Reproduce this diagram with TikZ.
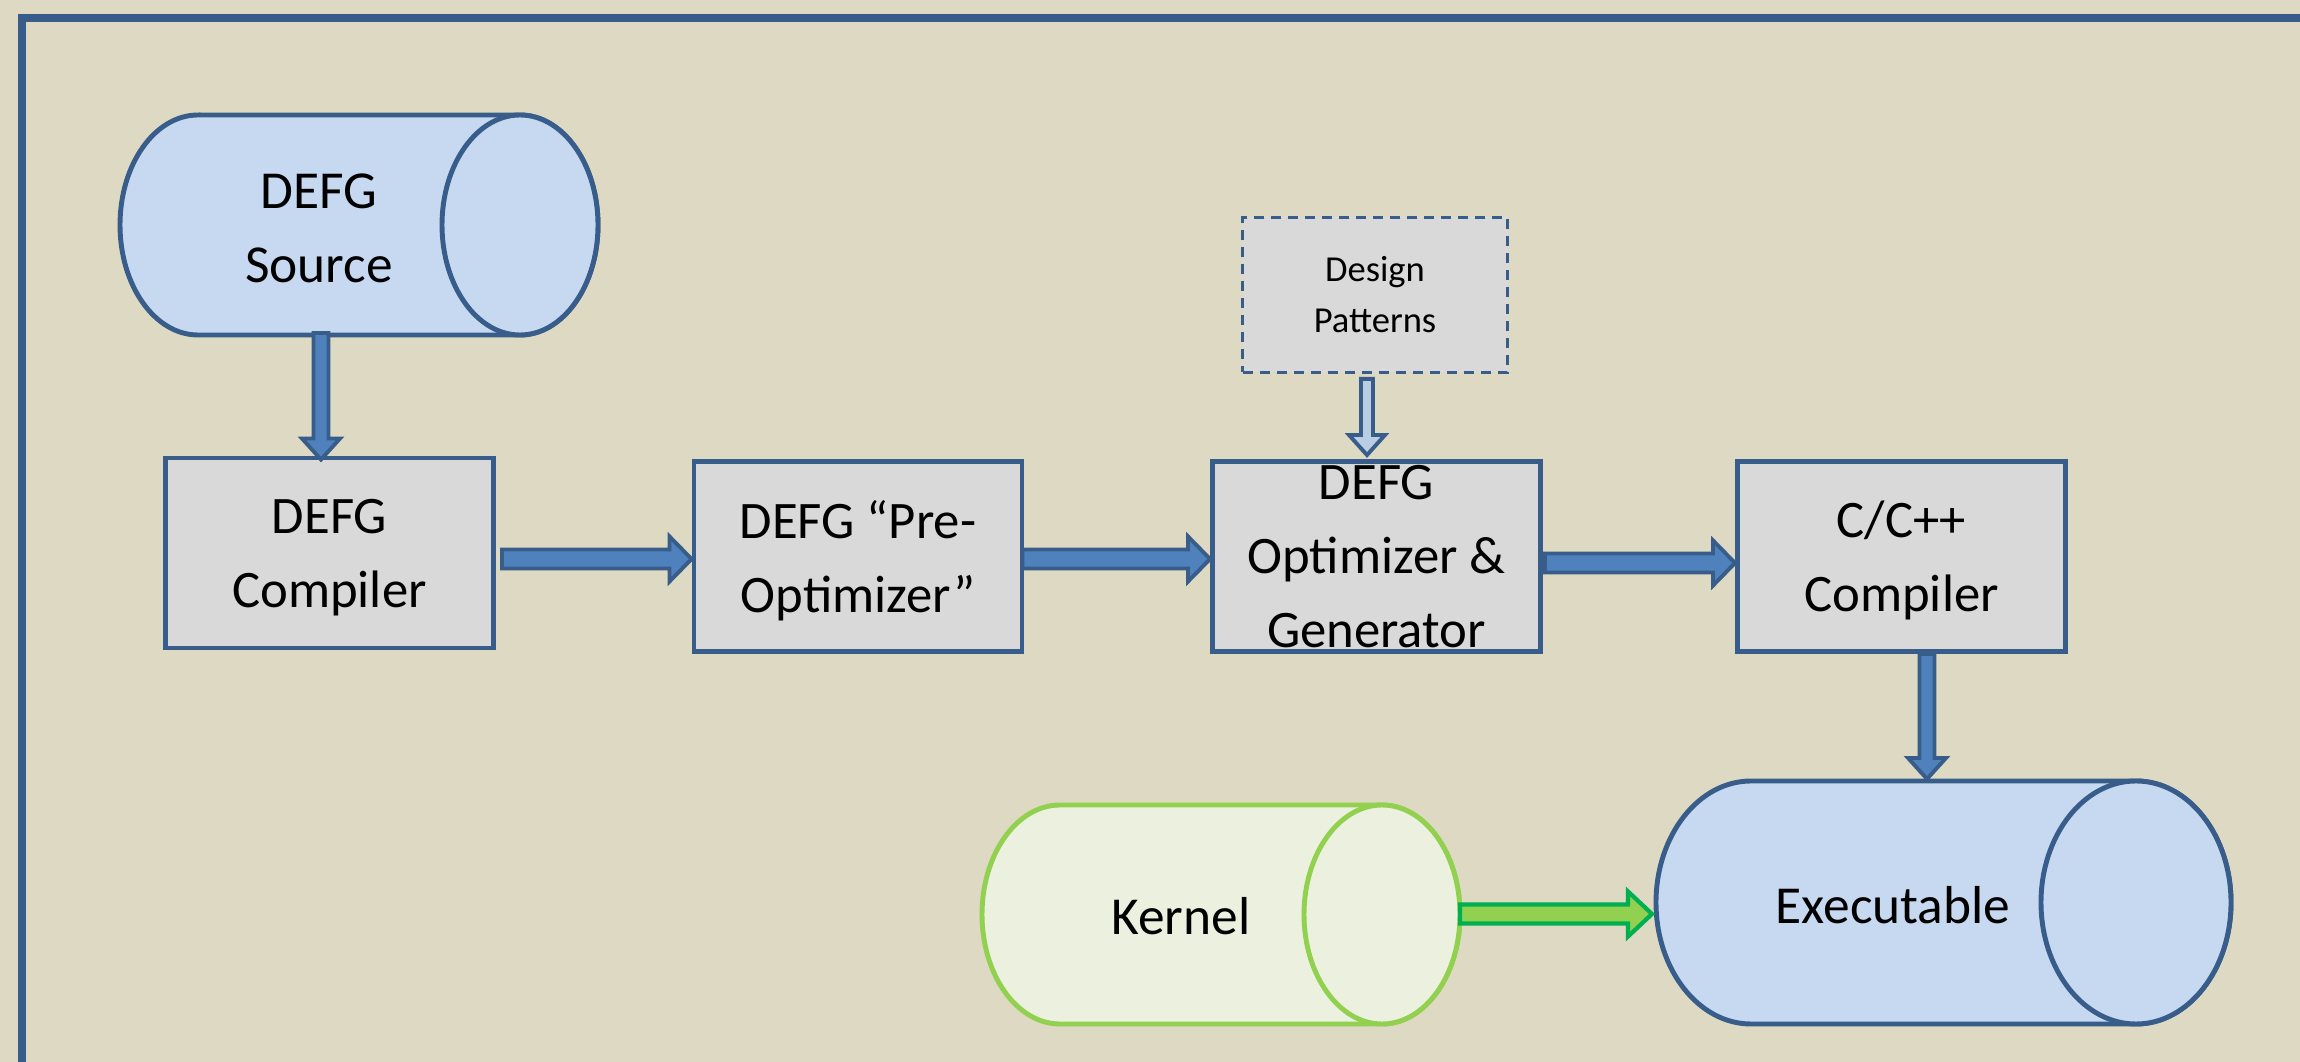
\documentclass[tikz,border=0pt]{standalone}
\usepackage{fontspec}
\setmainfont{Carlito}
\usepackage{tikz}
\usetikzlibrary{calc}
\usepackage{xcolor}

\definecolor{bgtan}{HTML}{DDD9C3}
\definecolor{navy}{HTML}{385D8A}
\definecolor{boxgray}{HTML}{D9D9D9}
\definecolor{cylblue}{HTML}{C6D9F1}
\definecolor{arrowblue}{HTML}{4F81BD}
\definecolor{paleblue}{HTML}{B9CDE5}
\definecolor{kergreen}{HTML}{92D050}
\definecolor{kerfill}{HTML}{EBF1DE}
\definecolor{arrowgreen}{HTML}{00B050}

% block arrow: [style]{from}{to}{half shaft}{half head}{head length}
\newcommand{\blockarrow}[6][]{%
  \draw[#1] ($(#2)!#4!90:(#3)$) -- ($(#3)!#6!(#2)!#4!90:(#3)$) -- ($(#3)!#6!(#2)!#5!90:(#3)$)
    -- (#3) -- ($(#3)!#6!(#2)!#5!-90:(#3)$) -- ($(#3)!#6!(#2)!#4!-90:(#3)$) -- ($(#2)!#4!-90:(#3)$) -- cycle;}

\begin{document}
\begin{tikzpicture}[
  stagebox/.style={draw=navy, line width=1.4pt, fill=boxgray, minimum width=3.28cm, minimum height=1.90cm,
    inner sep=0pt, text depth=0pt, align=center, font=\fontsize{15}{21}\selectfont},
  patternbox/.style={draw=navy, line width=0.8pt, dash pattern=on 0.1cm off 0.07cm, fill=boxgray,
    minimum width=2.65cm, minimum height=1.55cm, inner sep=0pt, align=center, font=\fontsize{10.4}{14.5}\selectfont},
  cyllabel/.style={align=center, inner sep=0pt, font=\fontsize{15.2}{21}\selectfont},
  bluecyl/.style={draw=navy, line width=1.4pt, fill=cylblue},
  greencyl/.style={draw=kergreen, line width=1.4pt, fill=kerfill},
  fatarrow/.style={draw=navy, line width=1.1pt, fill=arrowblue},
  lightarrow/.style={draw=navy, line width=1.1pt, fill=paleblue},
  greenarrow/.style={draw=arrowgreen, line width=1.2pt, fill=kergreen}
]
\useasboundingbox (0,0) rectangle (23,10.62);
\fill[bgtan] (0,0) rectangle (23,10.62);
\draw[navy, line width=2pt] (0.22,0) -- (0.22,10.44) -- (23,10.44);

% cylinders
\draw[bluecyl] (1.98,9.47) -- (5.20,9.47) arc[start angle=90, end angle=-90, x radius=0.78, y radius=1.10]
  -- (1.98,7.27) arc[start angle=270, end angle=90, x radius=0.78, y radius=1.10] -- cycle;
\draw[bluecyl] (5.20,8.37) ellipse [x radius=0.78, y radius=1.10];

\draw[greencyl] (10.60,2.57) -- (13.82,2.57) arc[start angle=90, end angle=-90, x radius=0.78, y radius=1.095]
  -- (10.60,0.38) arc[start angle=270, end angle=90, x radius=0.78, y radius=1.095] -- cycle;
\draw[greencyl] (13.82,1.475) ellipse [x radius=0.78, y radius=1.095];

\draw[bluecyl] (17.51,2.81) -- (21.36,2.81) arc[start angle=90, end angle=-90, x radius=0.95, y radius=1.215]
  -- (17.51,0.38) arc[start angle=270, end angle=90, x radius=0.95, y radius=1.215] -- cycle;
\draw[bluecyl] (21.36,1.595) ellipse [x radius=0.95, y radius=1.215];

\node[cyllabel] (src) at (3.19,8.34) {DEFG\\Source};
\node[cyllabel] (kernel) at (11.81,1.46) {Kernel};
\node[cyllabel] (exe) at (18.93,1.57) {Executable};

% stages
\node[stagebox] (comp) at (3.295,5.09) {DEFG\\Compiler};
\node[stagebox] (pre) at (8.58,5.055) {DEFG “Pre-\\Optimizer”};
\node[stagebox] (opt) at (13.765,5.055) {DEFG\\Optimizer \&\\Generator};
\node[stagebox] (cpp) at (19.015,5.055) {C/C++\\Compiler};
\node[patternbox] (design) at (13.75,7.67) {Design\\Patterns};

% arrows
\coordinate (srcbase) at (3.21,7.29);
\coordinate (compin) at ($(comp.north)+(-0.085,-0.04)$);
\blockarrow[fatarrow]{srcbase}{compin}{0.075cm}{0.19cm}{0.21cm}

\coordinate (compout) at ($(comp.east)+(0.06,-0.06)$);
\coordinate (prein) at ($(pre.west)+(0,-0.025)$);
\blockarrow[fatarrow]{compout}{prein}{0.095cm}{0.225cm}{0.22cm}

\coordinate (preout) at ($(pre.east)+(-0.02,-0.025)$);
\coordinate (optin) at ($(opt.west)+(0,-0.025)$);
\blockarrow[fatarrow]{preout}{optin}{0.095cm}{0.225cm}{0.22cm}

\coordinate (optout) at ($(opt.east)+(0.02,-0.065)$);
\coordinate (cppin) at ($(cpp.west)+(0,-0.065)$);
\blockarrow[fatarrow]{optout}{cppin}{0.095cm}{0.225cm}{0.22cm}

\coordinate (designout) at ($(design.south)+(-0.08,-0.05)$);
\coordinate (opttop) at ($(opt.north)+(-0.095,0.04)$);
\blockarrow[lightarrow]{designout}{opttop}{0.06cm}{0.18cm}{0.2cm}

\coordinate (cppout) at ($(cpp.south)+(0.255,0)$);
\coordinate (exetop) at ($(cpp.south)+(0.255,-1.25)$);
\blockarrow[fatarrow]{cppout}{exetop}{0.075cm}{0.19cm}{0.21cm}

\coordinate (kerout) at (14.60,1.48);
\coordinate (exein) at (16.52,1.48);
\blockarrow[greenarrow]{kerout}{exein}{0.095cm}{0.225cm}{0.24cm}
\end{tikzpicture}
\end{document}
